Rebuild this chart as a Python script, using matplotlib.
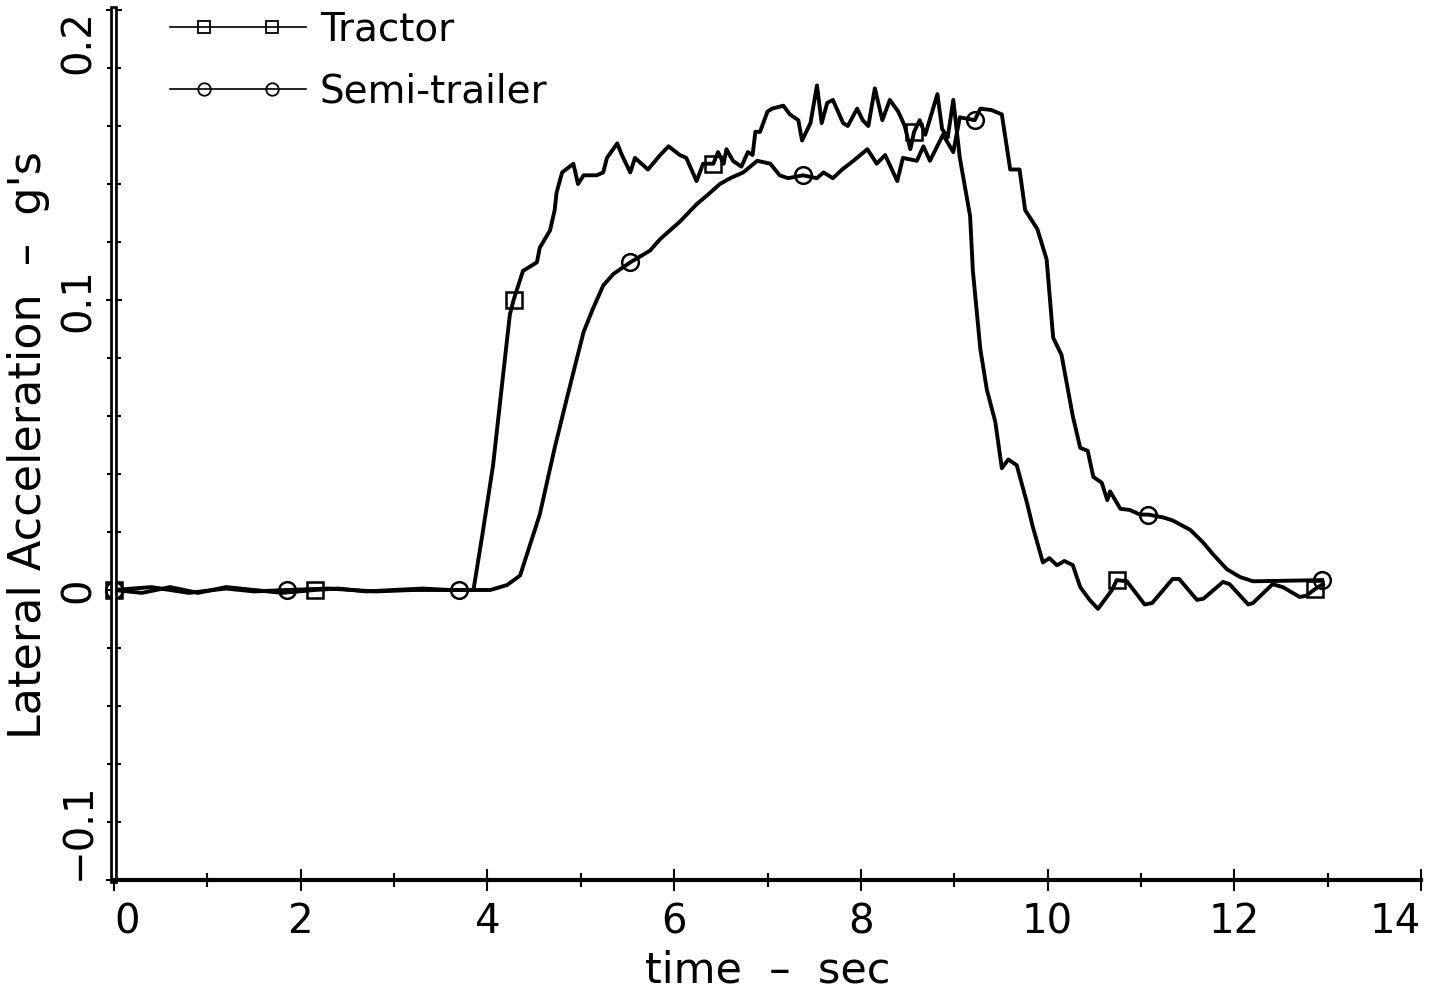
import numpy as np
import matplotlib
matplotlib.use("Agg")
import matplotlib.pyplot as plt
from matplotlib.lines import Line2D
from matplotlib.legend_handler import HandlerLine2D
from matplotlib import patheffects as pe

plt.rcParams['font.family'] = ['DejaVu Sans']

# Tractor lateral acceleration
tractor_t = [0.0, 0.3, 0.6, 0.9, 1.2, 1.5, 1.8, 2.15, 2.4, 2.7, 3.0, 3.3, 3.6, 3.85,
             3.95, 4.06, 4.16, 4.24, 4.28, 4.38, 4.53, 4.56, 4.67, 4.72,
             4.74, 4.80, 4.92, 4.97, 5.03, 5.17, 5.24, 5.28, 5.39, 5.44,
             5.53, 5.58, 5.72, 5.85, 5.94, 6.06, 6.13, 6.24, 6.31, 6.42,
             6.47, 6.53, 6.56, 6.63, 6.72, 6.79, 6.84, 6.87, 6.92, 7.00,
             7.05, 7.17, 7.24, 7.33, 7.37, 7.46, 7.53, 7.58, 7.64, 7.70,
             7.81, 7.86, 7.96, 8.02, 8.08, 8.15, 8.23, 8.31, 8.40, 8.47,
             8.53, 8.57, 8.63, 8.69, 8.82, 8.87, 8.93, 8.99, 9.06, 9.17,
             9.20, 9.28, 9.35, 9.44, 9.51, 9.58, 9.67, 9.78, 9.84, 9.95,
             10.02, 10.10, 10.18, 10.27, 10.35, 10.45, 10.54, 10.69, 10.74, 10.85,
             11.04, 11.12, 11.34, 11.41, 11.60, 11.67, 11.88, 11.95, 12.15, 12.20,
             12.41, 12.52, 12.70, 12.77, 12.87, 12.95]
tractor_g = [0.0, -0.001, 0.001, -0.001, 0.001, 0.0, -0.001, 0.0, 0.0005, -0.0005, 0.0, 0.0005, 0.0, 0.0,
             0.020, 0.043, 0.072, 0.095, 0.100, 0.110, 0.113, 0.118, 0.124, 0.131,
             0.137, 0.144, 0.147, 0.140, 0.143, 0.143, 0.144, 0.149, 0.154, 0.150,
             0.144, 0.149, 0.145, 0.150, 0.153, 0.150, 0.149, 0.141, 0.147, 0.147,
             0.151, 0.147, 0.152, 0.148, 0.146, 0.151, 0.150, 0.158, 0.158, 0.165,
             0.166, 0.167, 0.164, 0.162, 0.155, 0.161, 0.174, 0.161, 0.168, 0.169,
             0.161, 0.160, 0.166, 0.162, 0.160, 0.173, 0.162, 0.169, 0.165, 0.160,
             0.152, 0.158, 0.162, 0.157, 0.171, 0.159, 0.156, 0.169, 0.149, 0.129,
             0.110, 0.083, 0.069, 0.058, 0.042, 0.045, 0.043, 0.030, 0.022, 0.0095,
             0.011, 0.0085, 0.010, 0.0086, 0.001, -0.0034, -0.0065, 0.000, 0.0034, 0.003,
             -0.005, -0.0045, 0.0038, 0.0038, -0.0034, -0.003, 0.0028, 0.002, -0.005, -0.0045,
             0.002, 0.001, -0.0024, -0.002, 0.0004, 0.002]
tractor_marks = [0.0, 2.15, 4.28, 6.42, 8.57, 10.74, 12.87]

# Semi-trailer lateral acceleration
semi_t = [0.0, 0.4, 0.8, 1.2, 1.5, 1.85, 2.3, 2.8, 3.2, 3.70,
          4.03, 4.21, 4.35, 4.43, 4.56, 4.72, 4.85, 4.92, 5.03, 5.13,
          5.24, 5.35, 5.53, 5.74, 5.85, 6.06, 6.24, 6.35, 6.49, 6.60,
          6.74, 6.89, 7.03, 7.13, 7.22, 7.38, 7.53, 7.60, 7.70, 7.80,
          7.92, 8.07, 8.17, 8.26, 8.39, 8.45, 8.60, 8.67, 8.74, 8.88,
          8.99, 9.06, 9.22, 9.28, 9.40, 9.51, 9.60, 9.70, 9.76, 9.89,
          9.99, 10.06, 10.15, 10.27, 10.35, 10.43, 10.49, 10.58, 10.64, 10.67,
          10.78, 10.88, 10.99, 11.08, 11.24, 11.34, 11.53, 11.66, 11.77, 11.92,
          12.06, 12.20, 12.94]
semi_g = [0.0, 0.001, -0.001, 0.0005, -0.0005, 0.0, 0.0005, -0.0005, 0.0, 0.0,
          0.0, 0.0017, 0.005, 0.013, 0.026, 0.049, 0.066, 0.075, 0.089, 0.097,
          0.105, 0.109, 0.113, 0.117, 0.121, 0.127, 0.133, 0.136, 0.140, 0.142,
          0.144, 0.148, 0.147, 0.143, 0.142, 0.143, 0.142, 0.144, 0.142, 0.145,
          0.148, 0.152, 0.147, 0.150, 0.141, 0.149, 0.148, 0.153, 0.148, 0.157,
          0.151, 0.163, 0.162, 0.166, 0.1655, 0.164, 0.145, 0.145, 0.131, 0.1245,
          0.114, 0.087, 0.081, 0.060, 0.049, 0.048, 0.039, 0.037, 0.031, 0.034,
          0.028, 0.0276, 0.026, 0.026, 0.025, 0.024, 0.0207, 0.0166, 0.0124, 0.0072,
          0.0045, 0.003, 0.0034]
semi_marks = [0.0, 1.85, 3.70, 5.53, 7.38, 9.22, 11.08, 12.94]

x_ticks = [0, 2, 4, 6, 8, 10, 12, 14]
y_ticks = [-0.1, 0.0, 0.1, 0.2]
y_tick_labels = ['\u22120.1', '0', '0.1', '0.2']


def mark_index(t, marks):
    """Индексы точек, где стоят маркеры"""
    t = np.asarray(t)
    return [int(np.argmin(np.abs(t - m))) for m in marks]


class HandlerInnerMarkers(HandlerLine2D):
    """Линия во всю длину, маркеры только на 2-й и 4-й точке"""
    def create_artists(self, *args, **kwargs):
        artists = super().create_artists(*args, **kwargs)
        for a in artists:
            a.set_markevery([1, 3])
        return artists


fig, ax = plt.subplots(figsize=(14.33, 10.01), dpi=100)
fig.subplots_adjust(left=0.0796, right=0.9916, bottom=0.1209, top=0.990)

ax.plot(tractor_t, tractor_g, color='black', lw=2.8, marker='s', ms=12,
        mfc='none', mec='black', mew=1.8,
        markevery=mark_index(tractor_t, tractor_marks), clip_on=False)
ax.plot(semi_t, semi_g, color='black', lw=2.8, marker='o', ms=12,
        mfc='none', mec='black', mew=1.8,
        markevery=mark_index(semi_t, semi_marks), clip_on=False)

ax.set_xlim(0, 14)
ax.set_ylim(-0.1, 0.2)

ax.set_xticks(x_ticks)
ax.set_xticks(np.arange(0, 15, 1), minor=True)
ax.set_yticks(y_ticks)
ax.set_yticks(np.arange(-0.1, 0.2001, 0.02), minor=True)
ax.set_xticklabels([str(v) for v in x_ticks])
ax.set_yticklabels(y_tick_labels, rotation=90, va='center')

ax.tick_params(axis='x', which='major', direction='inout', length=16,
               width=1.5, pad=8, labelsize=29)
ax.tick_params(axis='x', which='minor', direction='inout', length=10, width=1.5)
ax.tick_params(axis='y', which='major', direction='inout', length=12,
               width=1.5, pad=5, labelsize=29)
ax.tick_params(axis='y', which='minor', direction='inout', length=9.5, width=1.5)

# крайние подписи сдвинуты внутрь, как в оригинале
xl = ax.get_xticklabels()
xl[0].set_ha('left')
xl[-1].set_ha('right')
yl = ax.get_yticklabels()
yl[0].set_va('bottom')
yl[-1].set_va('top')

for side in ['top', 'right']:
    ax.spines[side].set_visible(False)
ax.spines['bottom'].set_linewidth(3)
# двойная линия оси Y
ax.spines['left'].set_linewidth(5.5)
ax.spines['left'].set_path_effects([pe.Stroke(linewidth=5.5, foreground='black'),
                                    pe.Stroke(linewidth=1.6, foreground='white')])

ax.set_xlabel('time  \u2013  sec', fontsize=31)
ax.set_ylabel('Lateral Acceleration  \u2013  g\'s', fontsize=32)
ax.xaxis.set_label_coords(0.5, -0.080)
ax.yaxis.set_label_coords(-0.049, 0.5)

handles = [Line2D([], [], color='black', lw=1.2, marker='s', ms=9, mfc='none', mew=1.3),
           Line2D([], [], color='black', lw=1.2, marker='o', ms=9, mfc='none', mew=1.3)]
ax.legend(handles, ['Tractor', 'Semi-trailer'], loc='upper left',
          bbox_to_anchor=(0.043, 0.999), frameon=False, fontsize=28,
          handlelength=3.5, handletextpad=0.35, labelspacing=0.6,
          borderpad=0, borderaxespad=0,
          handler_map={Line2D: HandlerInnerMarkers(numpoints=5, marker_pad=0)})

fig.savefig('out.png', dpi=100)
